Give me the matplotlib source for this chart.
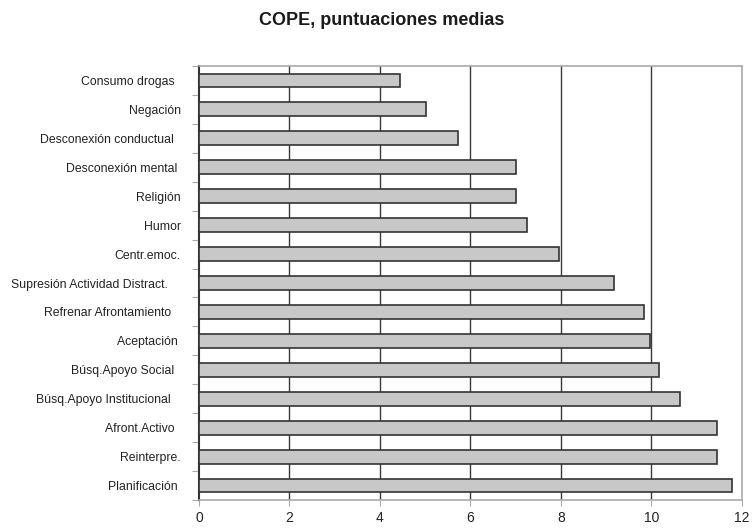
import matplotlib
matplotlib.use("Agg")
import matplotlib.pyplot as plt
import numpy as np

plt.rcParams['font.family'] = ['Liberation Sans', 'DejaVu Sans']

# estrategias COPE (de arriba a abajo) y su puntuacion media
estrategias = ["Consumo drogas  ", "Negación", "Desconexión conductual  ",
               "Desconexión mental ", "Religión", "Humor", "Centr.emoc.",
               "Supresión Actividad Distract.    ", "Refrenar Afrontamiento   ",
               "Aceptación ", "Búsq.Apoyo Social  ",
               "Búsq.Apoyo Institucional   ", "Afront.Activo  ", "Reinterpre.",
               "Planificación "]
medias = [4.45, 5.02, 5.73, 7.01, 7.01, 7.24, 7.95,
          9.17, 9.84, 9.97, 10.17, 10.64, 11.44, 11.44, 11.77]
ticks_x = [0, 2, 4, 6, 8, 10, 12]

fig = plt.figure(figsize=(7.52, 5.29), dpi=100)
ax = fig.add_axes([0.2646, 0.0548, 0.7221, 0.8204])

y = np.arange(len(estrategias))
ax.barh(y, medias, height=0.48, color='#c8c8c8', edgecolor='#333333',
        linewidth=1.2, zorder=3)

ax.set_xlim(0, 12)
ax.set_ylim(len(estrategias) - 0.5, -0.5)
ax.set_xticks(ticks_x)
ax.set_xticklabels([str(t) for t in ticks_x], fontsize=10, color='#222222')
ax.set_yticks(y)
ax.set_yticklabels(estrategias, fontsize=8.8, color='#222222')
ax.set_yticks(np.arange(len(estrategias) + 1) - 0.5, minor=True)

# lineas verticales de la cuadricula
for t in ticks_x[1:-1]:
    ax.axvline(t, color='#3a3a3a', linewidth=1.0, zorder=1)

ax.tick_params(axis='y', which='major', length=0, pad=13)
ax.tick_params(axis='y', which='minor', length=5, color='#aaaaaa', width=0.8)
ax.tick_params(axis='x', length=4, color='#aaaaaa', width=0.8, pad=4)

for lado in ['top', 'right', 'bottom']:
    ax.spines[lado].set_color('#aaaaaa')
    ax.spines[lado].set_linewidth(1.2)
ax.spines['left'].set_color('#333333')
ax.spines['left'].set_linewidth(1.5)

fig.text(0.507, 0.962, "COPE, puntuaciones medias", ha='center', va='center',
         fontsize=13, fontweight='bold', color='#1a1a1a')

plt.savefig('out.png', dpi=100)
